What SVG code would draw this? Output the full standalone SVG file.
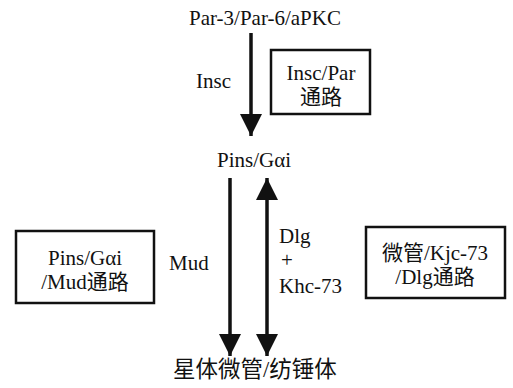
<svg xmlns="http://www.w3.org/2000/svg" width="513" height="388" viewBox="0 0 513 388">
<style>
text{font-family:"Liberation Serif","Noto Sans CJK SC",serif;font-size:21px;fill:#111}
.c{text-anchor:middle}
.box{fill:none;stroke:#111;stroke-width:2.5}
.ln{stroke:#111;stroke-width:3.5;fill:none}
</style>
<defs>
<marker id="ahb" viewBox="0 0 22 22" refX="22" refY="11" markerWidth="22" markerHeight="22" markerUnits="userSpaceOnUse" orient="auto-start-reverse">
<path d="M0,0 L22,11 L0,22 Z" fill="#111"/>
</marker>
</defs>
<rect width="513" height="388" fill="#fff"/>
<g id="connectors">
<line class="ln" x1="251" y1="33" x2="251" y2="136" marker-end="url(#ahb)"/>
<line class="ln" x1="230" y1="178" x2="230" y2="356" marker-end="url(#ahb)"/>
<line class="ln" x1="267" y1="178" x2="267" y2="356" marker-start="url(#ahb)" marker-end="url(#ahb)"/>
<text x="196" y="88">Insc</text>
<text x="169" y="270">Mud</text>
<text x="279" y="243">Dlg</text>
<text x="281" y="267">+</text>
<text x="279" y="293">Khc-73</text>
</g>
<g id="n-par"><text class="c" x="265" y="25">Par-3/Par-6/aPKC</text></g>
<g id="n-insc-box">
<rect class="box" x="271" y="50" width="99" height="64"/>
<text class="c" x="321" y="80">Insc/Par</text>
<text class="c" x="321" y="104">通路</text>
</g>
<g id="n-pins"><text class="c" x="254" y="167">Pins/Gαi</text></g>
<g id="n-mud-box">
<rect class="box" x="16" y="231" width="138" height="72"/>
<text class="c" x="85" y="265">Pins/Gαi</text>
<text class="c" x="85" y="289">/Mud通路</text>
</g>
<g id="n-dlg-box">
<rect class="box" x="366" y="227" width="139" height="71"/>
<text class="c" x="435" y="260">微管/Kjc-73</text>
<text class="c" x="435" y="284">/Dlg通路</text>
</g>
<g id="n-spindle"><text class="c" x="255" y="377" style="font-size:22.5px">星体微管/纺锤体</text></g>
</svg>
